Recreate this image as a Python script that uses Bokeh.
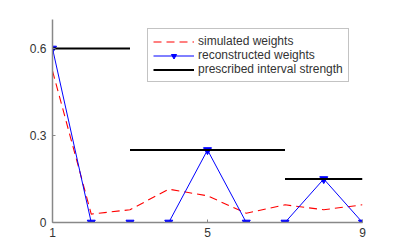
from bokeh.plotting import figure
from bokeh.models import Range1d, FixedTicker, Legend, LegendItem
from bokeh.embed import file_html
from bokeh.resources import INLINE

# data
x_idx = [1, 2, 3, 4, 5, 6, 7, 8, 9]
simulated = [0.523, 0.029, 0.044, 0.115, 0.092, 0.032, 0.061, 0.044, 0.061]
reconstructed = [0.6, 0.0, 0.0, 0.0, 0.25, 0.0, 0.0, 0.15, 0.0]
interval_start = [1, 3, 7]
interval_end = [3, 7, 9]
interval_strength = [0.6, 0.25, 0.15]
x_ticks = [1, 5, 9]
y_ticks = [0, 0.3, 0.6]
y_tick_labels = ["0", "0.3", "0.6"]

FONT = "Liberation Sans"
TXT = "#333333"
AX = "#888888"

p = figure(width=400, height=250, output_backend="svg", toolbar_location=None,
           x_range=Range1d(1, 9), y_range=Range1d(0, 0.7),
           min_border_left=52, min_border_right=38, min_border_top=19,
           min_border_bottom=28)
p.outline_line_color = None
p.xgrid.visible = False
p.ygrid.visible = False

r_sim = p.line(x_idx, simulated, line_color="#ff0000", line_width=1.1, line_dash="8 5")
r_rec = p.line(x_idx, reconstructed, line_color="#0000ff", line_width=1)
r_rec_m = p.scatter(x_idx, reconstructed, marker="inverted_triangle", size=8,
                    fill_color="#0000ff", line_color="#0000ff")
xs = [[a, b] for a, b in zip(interval_start, interval_end)]
ys = [[s, s] for s in interval_strength]
r_int = p.multi_line(xs, ys, line_color="#000000", line_width=2)

for ax in (p.xaxis[0], p.yaxis[0]):
    ax.axis_line_color = AX
    ax.axis_line_width = 1.5
    ax.major_tick_line_color = AX
    ax.major_tick_in = 3
    ax.major_tick_out = 0
    ax.minor_tick_line_color = None
    ax.major_label_text_font = FONT
    ax.major_label_text_font_size = "12px"
    ax.major_label_text_color = TXT

p.xaxis.ticker = FixedTicker(ticks=x_ticks)
p.yaxis.ticker = FixedTicker(ticks=y_ticks)
p.yaxis.major_label_overrides = {t: l for t, l in zip(y_ticks, y_tick_labels)}
p.xaxis.major_label_standoff = 5
p.yaxis.major_label_standoff = 6

legend = Legend(items=[
    LegendItem(label="simulated weights", renderers=[r_sim]),
    LegendItem(label="reconstructed weights", renderers=[r_rec, r_rec_m]),
    LegendItem(label="prescribed interval strength", renderers=[r_int]),
], location=(95, 140))
legend.label_text_font = FONT
legend.label_text_font_size = "12px"
legend.label_text_color = TXT
legend.border_line_color = AX
legend.border_line_width = 1.5
legend.background_fill_alpha = 1
legend.glyph_width = 41
legend.glyph_height = 13
legend.label_height = 13
legend.label_standoff = 4
legend.spacing = 0
legend.padding = 5
legend.margin = 0
p.add_layout(legend, "center")

open("out.html", "w").write(file_html(p, INLINE))
